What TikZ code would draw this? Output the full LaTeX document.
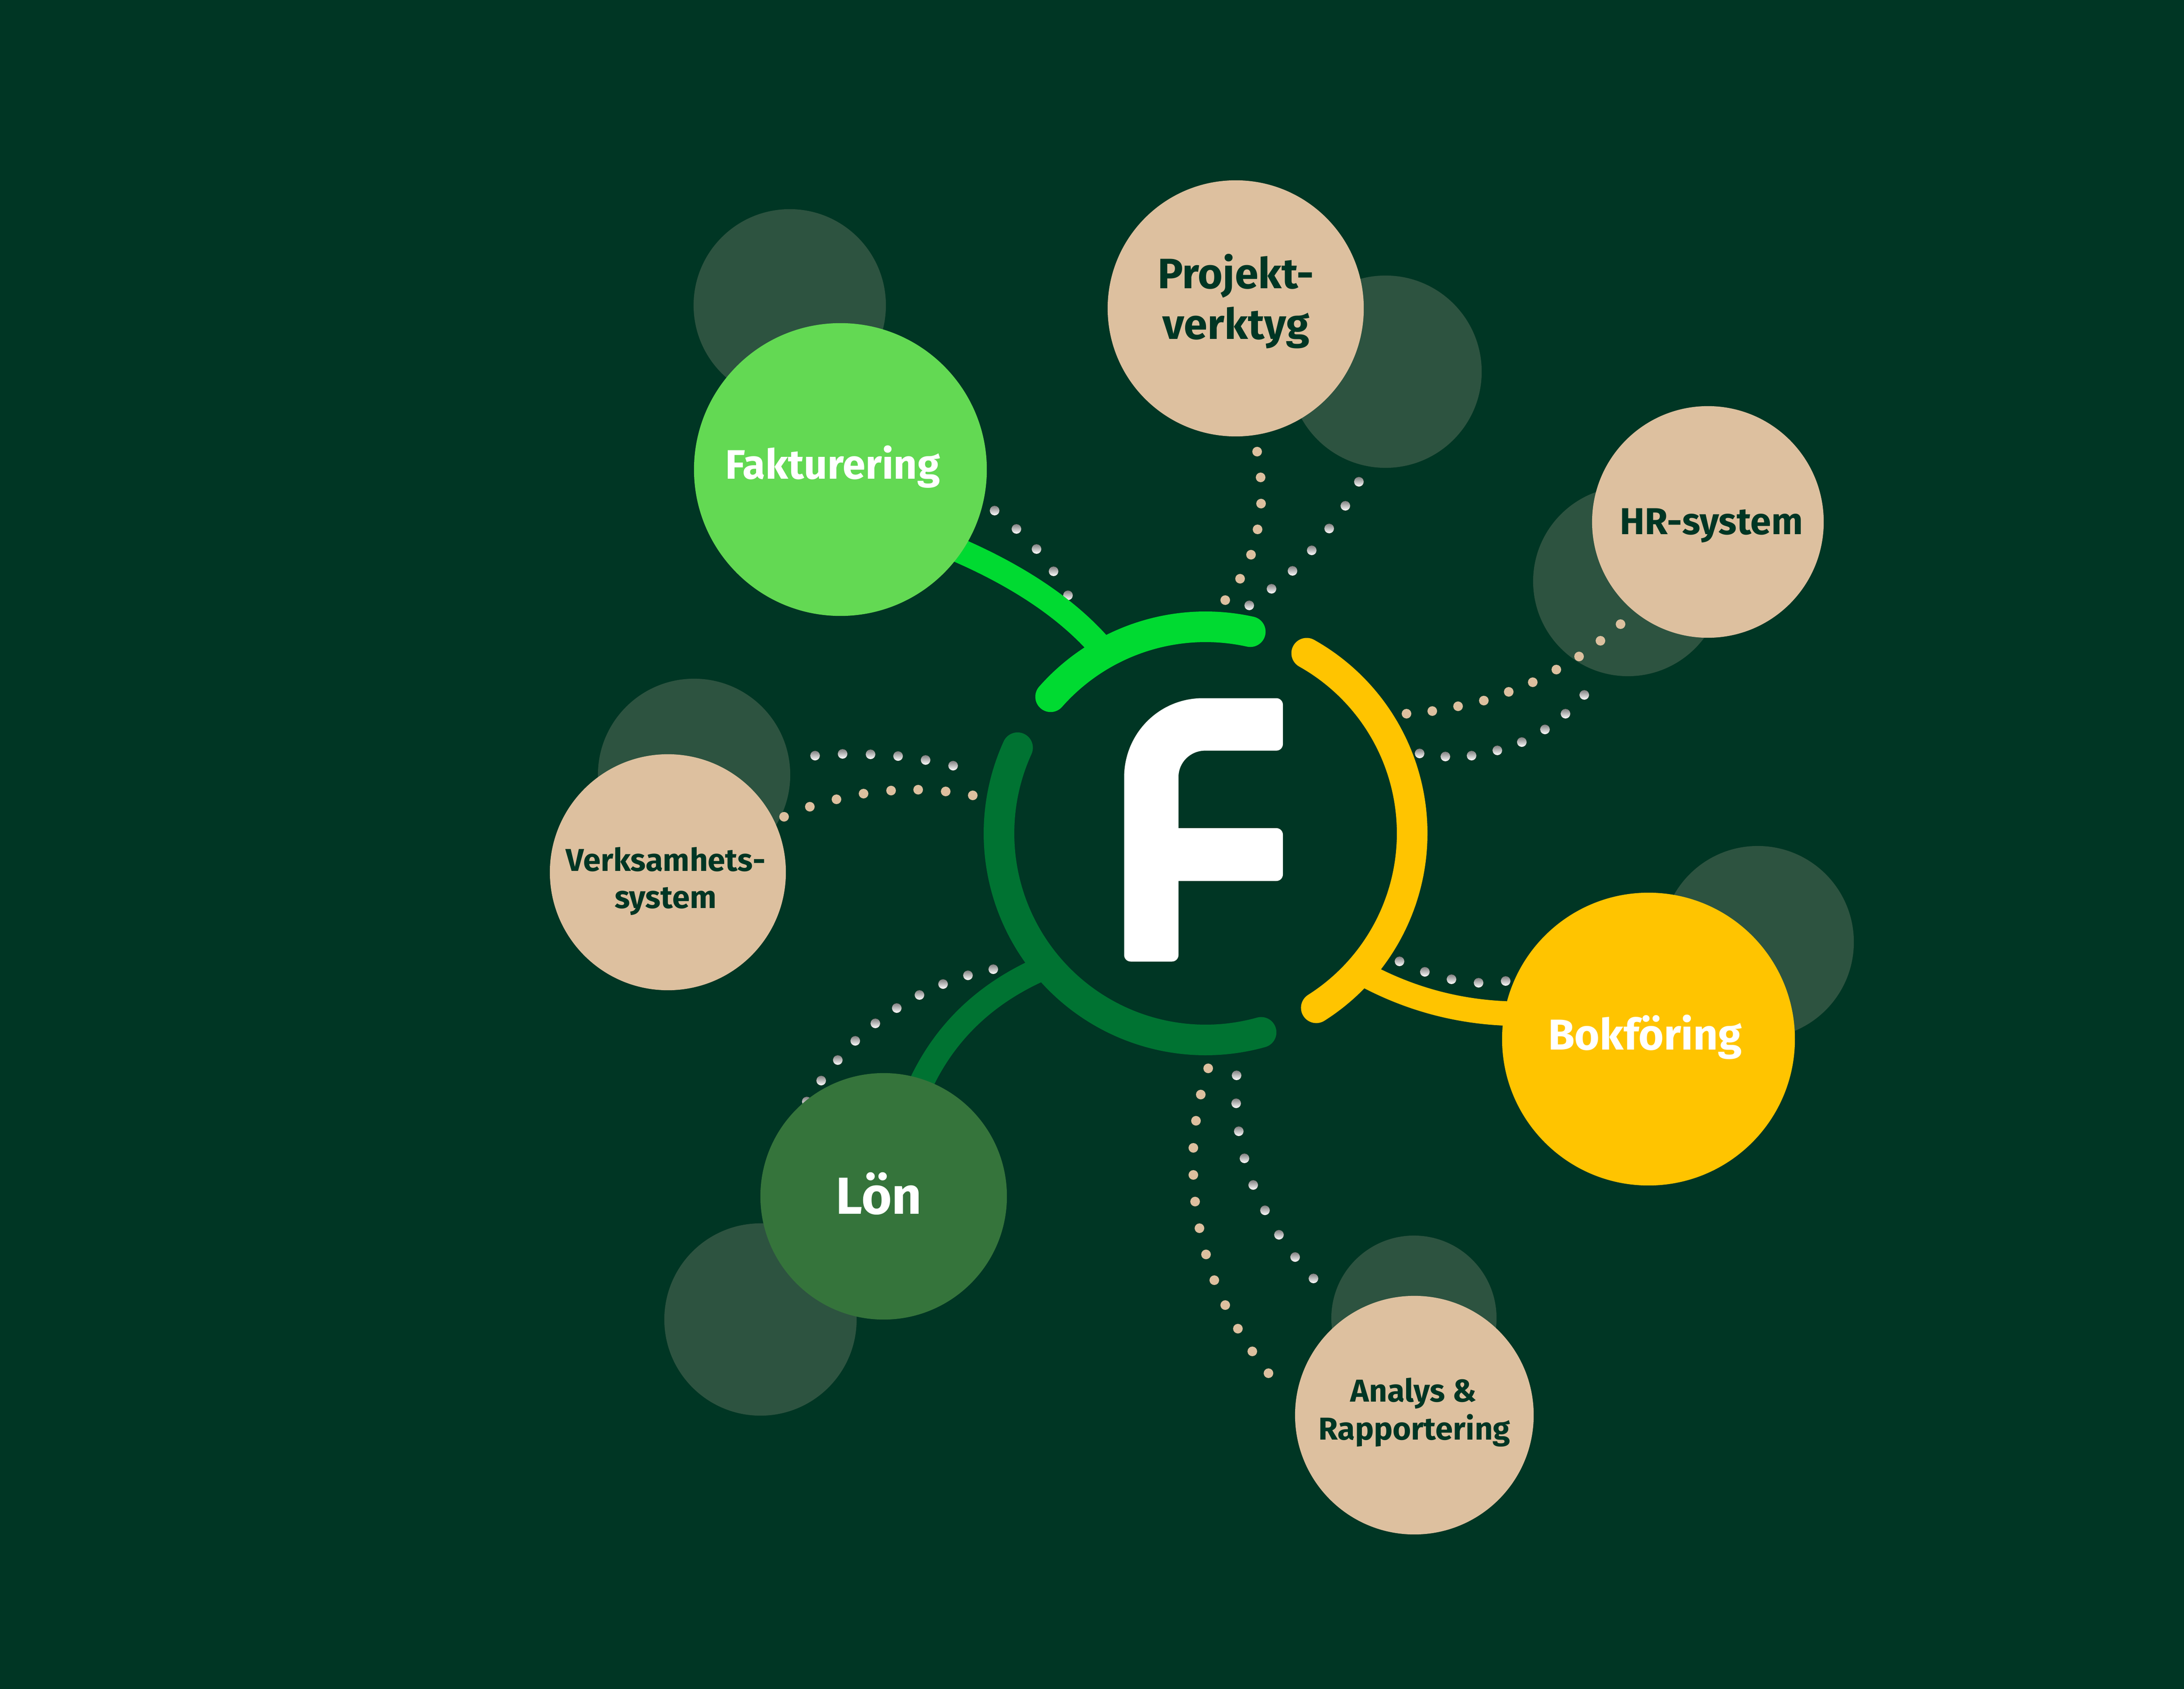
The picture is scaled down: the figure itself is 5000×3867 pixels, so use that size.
\documentclass[tikz,border=0pt]{standalone}
\usepackage{fontspec}
\usetikzlibrary{calc}
\newfontfamily\lab{Fira Sans Bold}
\definecolor{bg}{HTML}{003624}
\definecolor{shade}{HTML}{2D5340}
\definecolor{cream}{HTML}{DDC09F}
\definecolor{lime}{HTML}{00DA31}
\definecolor{fakc}{HTML}{63D953}
\definecolor{gold}{HTML}{FFC400}
\definecolor{forest}{HTML}{007332}
\definecolor{lonc}{HTML}{35743B}
\tikzset{
  sat/.style={circle, inner sep=0pt, outer sep=0pt, draw=none},
  shadowc/.style={sat, fill=shade},
  lbl/.style={inner sep=0pt, anchor=base},
  ringarc/.style={line width=0.70cm, line cap=round},
  conn/.style={line width=0.56cm, line cap=butt},
}
\begin{document}
\begin{tikzpicture}[x=0.01cm, y=-0.01cm]
\fill[bg] (0,0) rectangle (5000,3867);
\useasboundingbox (0,0) rectangle (5000,3867);
\coordinate (hub) at (2760,1908);

% shadow circles
\node[shadowc, minimum size=4.40cm] (fak-s) at (1808,699) {};
\node[shadowc, minimum size=4.40cm] (pro-s) at (3172,851) {};
\node[shadowc, minimum size=4.34cm] (hr-s) at (3727,1331) {};
\node[shadowc, minimum size=4.40cm] (ver-s) at (1589,1774) {};
\node[shadowc, minimum size=4.40cm] (bok-s) at (4024,2157) {};
\node[shadowc, minimum size=4.40cm] (lon-s) at (1741,3021) {};
\node[shadowc, minimum size=3.78cm] (ana-s) at (3237,3018) {};

% dotted chains
\foreach \x/\y in {2277/1169, 2327/1211, 2373/1257, 2412/1308, 2445/1363,
  3111/1103, 3080/1158, 3043/1210, 3003/1260, 2959/1307, 2911/1348, 2860/1386,
  3627/1591, 3584/1634, 3537/1670, 3484/1699, 3428/1718, 3369/1730, 3309/1732, 3250/1725,
  3204/2201, 3262/2225, 3323/2242, 3385/2250, 3447/2246,
  1866/1730, 1929/1726, 1993/1727, 2056/1731, 2119/1740, 2182/1753,
  2274/2219, 2216/2233, 2159/2253, 2105/2278, 2053/2308, 2004/2343, 1958/2383, 1918/2427, 1880/2474, 1847/2522,
  2831/2462, 2830/2526, 2836/2590, 2849/2652, 2869/2713, 2896/2771, 2928/2827, 2965/2878, 3007/2927}
  \fill[shade] (\x,\y) circle[radius=11];
\foreach \x/\y in {2878/1034, 2886/1093, 2887/1153, 2879/1212, 2864/1270, 2839/1325, 2805/1374,
  3710/1429, 3664/1467, 3615/1503, 3563/1533, 3509/1562, 3454/1584, 3397/1604, 3338/1617, 3279/1628, 3220/1634,
  1795/1870, 1854/1847, 1915/1830, 1977/1817, 2040/1810, 2102/1808, 2165/1812, 2227/1821,
  2766/2446, 2749/2506, 2738/2566, 2732/2628, 2732/2690, 2736/2751, 2746/2812, 2761/2872, 2780/2931, 2805/2988, 2834/3042, 2867/3094, 2904/3144}
  \fill[cream] (\x,\y) circle[radius=11];

% satellite centres
\coordinate (fak-c) at (1924,1075);
\coordinate (bok-c) at (3774,2379);
\coordinate (lon-c) at (2023,2739);

% ring junction points and connector ends
\coordinate (j-fak) at ($(hub)+(-119:473)$);
\coordinate (j-bok) at ($(hub)+(42:473)$);
\coordinate (j-lon) at ($(hub)+(140:473)$);
\coordinate (e-fak) at (2100,1222);
\coordinate (e-bok) at (3520,2320);
\coordinate (e-lon) at (2100,2500);

% connectors
\draw[conn, lime] (j-fak) .. controls (2441,1385) and (2297,1294) .. (e-fak);
\draw[conn, gold] (j-bok) .. controls (3237,2295) and (3373,2327) .. (e-bok);
\draw[conn, forest] (j-lon) .. controls (2256,2271) and (2157,2367) .. (e-lon);

% ring arcs
\draw[ringarc, lime] plot[domain=-77.5:-138.6, samples=60] ({2760+473*cos(\x)},{1908+473*sin(\x)});
\draw[ringarc, gold] plot[domain=-60.7:57.6, samples=90] ({2760+473*cos(\x)},{1908+473*sin(\x)});
\draw[ringarc, forest] plot[domain=-155.5:-285.6, samples=100] ({2760+473*cos(\x)},{1908+473*sin(\x)});

% F logo
\fill[white] (2573.5,1780) .. controls (2573.5,1679) and (2654,1598.5) .. (2753.5,1598.5)
  -- (2922,1598.5) .. controls (2930.3,1598.5) and (2937,1605.2) .. (2937,1613.5)
  -- (2937,1703.6) .. controls (2937,1711.9) and (2930.3,1718.6) .. (2922,1718.6)
  -- (2759,1718.6) .. controls (2725,1718.6) and (2698,1745.5) .. (2698,1779)
  -- (2698,1896) -- (2922,1896) .. controls (2930.3,1896) and (2937,1902.7) .. (2937,1911)
  -- (2937,2002) .. controls (2937,2010.3) and (2930.3,2017) .. (2922,2017)
  -- (2698,2017) -- (2698,2186.5) .. controls (2698,2194.8) and (2691.3,2201.5) .. (2683,2201.5)
  -- (2588.5,2201.5) .. controls (2580.2,2201.5) and (2573.5,2194.8) .. (2573.5,2186.5)
  -- cycle;

% main circles
\node[sat, fill=fakc, minimum size=6.70cm] (fak) at (fak-c) {};
\node[sat, fill=cream, minimum size=5.86cm] (pro) at (2829,706) {};
\node[sat, fill=cream, minimum size=5.30cm] (hr) at (3910,1195) {};
\node[sat, fill=cream, minimum size=5.40cm] (ver) at (1529,1997) {};
\node[sat, fill=gold, minimum size=6.70cm] (bok) at (bok-c) {};
\node[sat, fill=lonc, minimum size=5.64cm] (lon) at (lon-c) {};
\node[sat, fill=cream, minimum size=5.46cm] (ana) at (3238,3240) {};

% labels
\node[lbl, text=white, font=\lab\fontsize{26.8}{32}\selectfont] (fak-t) at (1906,1096) {Fakturering};
\node[lbl, text=bg, font=\lab\fontsize{27.7}{33}\selectfont] (pro-t1) at (2829,660) {Projekt-};
\node[lbl, text=bg, font=\lab\fontsize{27.7}{33}\selectfont] (pro-t2) at (2830,776) {verktyg};
\node[lbl, text=bg, font=\lab\fontsize{24.4}{29}\selectfont] (hr-t) at (3918,1223) {HR-system};
\node[lbl, text=bg, font=\lab\fontsize{20.6}{25}\selectfont] (ver-t1) at (1524,1994) {Verksamhets-};
\node[lbl, text=bg, font=\lab\fontsize{20.6}{25}\selectfont] (ver-t2) at (1524,2079) {system};
\node[lbl, text=white, font=\lab\fontsize{28.1}{33}\selectfont] (bok-t) at (3766,2403) {Bokföring};
\node[lbl, text=white, font=\lab\fontsize{33.9}{40}\selectfont] (lon-t) at (2012,2779) {Lön};
\node[lbl, text=bg, font=\lab\fontsize{20.6}{25}\selectfont] (ana-t1) at (3236,3209) {Analys \&};
\node[lbl, text=bg, font=\lab\fontsize{20.6}{25}\selectfont] (ana-t2) at (3238,3296) {Rapportering};
\end{tikzpicture}
\end{document}
